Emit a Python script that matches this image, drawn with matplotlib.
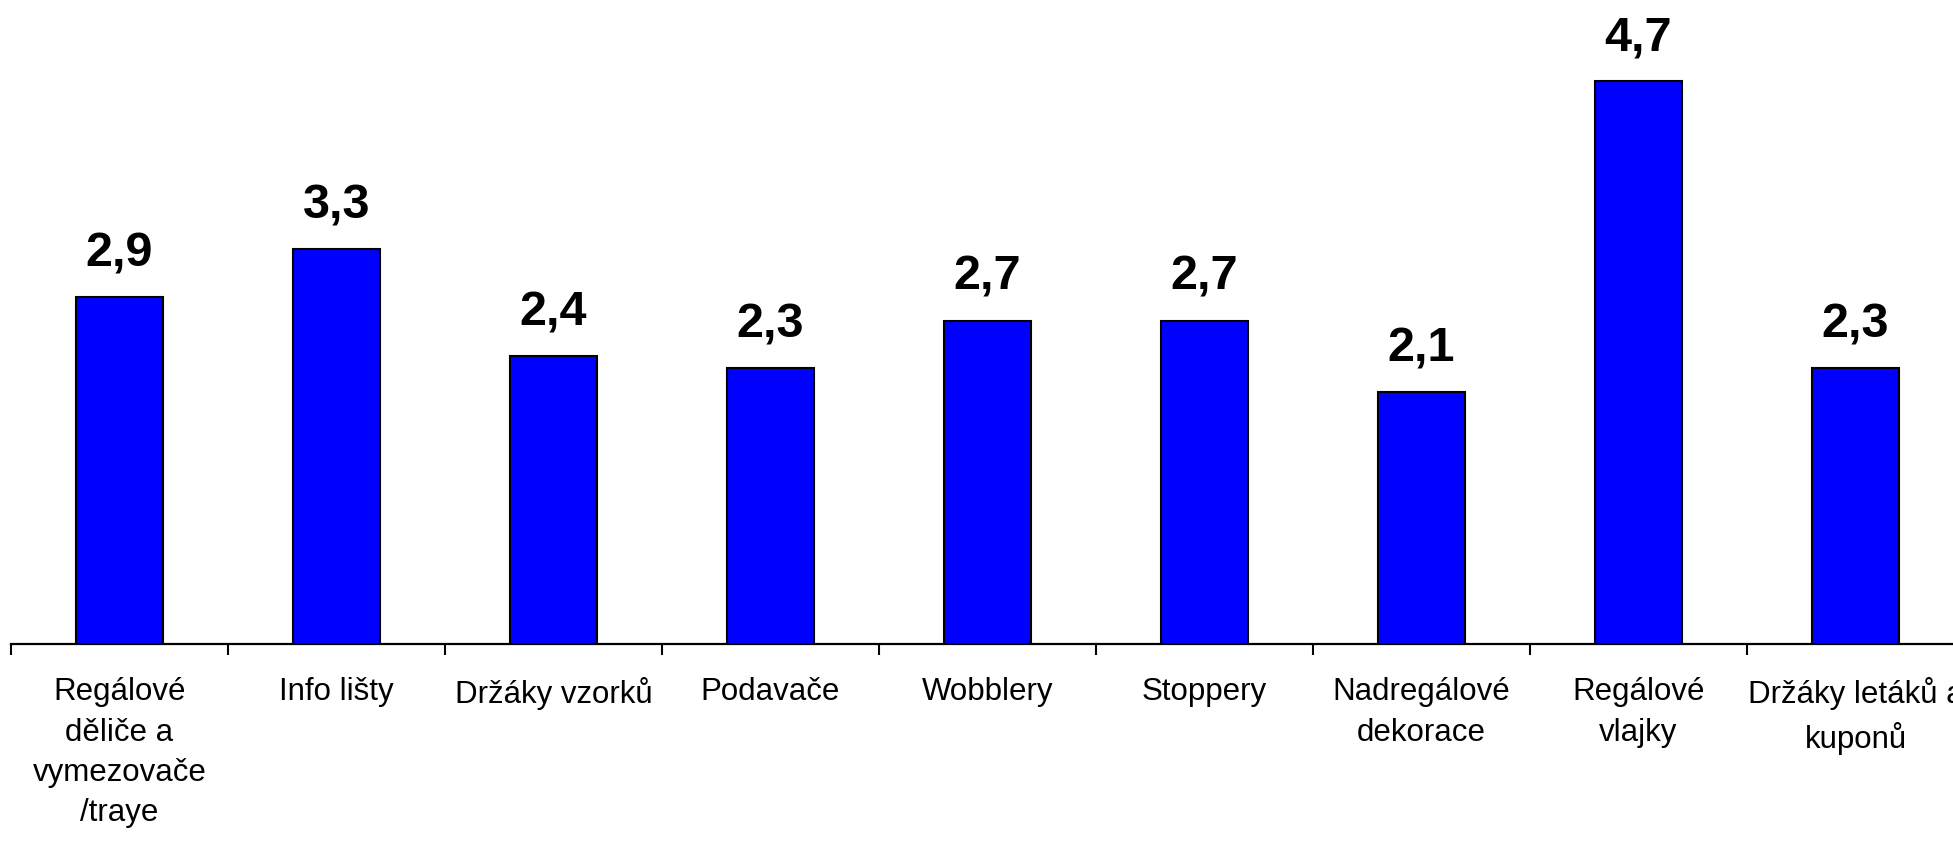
import matplotlib
matplotlib.use("Agg")
import matplotlib.pyplot as plt
import numpy as np

categories = [
    "Regálové\nděliče a\nvymezovače\n/traye",
    "Info lišty",
    "Držáky vzorků",
    "Podavače",
    "Wobblery",
    "Stoppery",
    "Nadregálové\ndekorace",
    "Regálové\nvlajky",
    "Držáky letáků a\nkuponů",
]
values = [2.9, 3.3, 2.4, 2.3, 2.7, 2.7, 2.1, 4.7, 2.3]
value_labels = ["2,9", "3,3", "2,4", "2,3", "2,7", "2,7", "2,1", "4,7", "2,3"]

plt.rcParams['font.family'] = ['Liberation Sans', 'DejaVu Sans']

W, H = 1953, 852
fig = plt.figure(figsize=(W / 100, H / 100), dpi=100)
ax_left = 11 / W
ax_bottom = (H - 644) / H
ax_height = 644 / H
ax_width = 1953 / W
ax = fig.add_axes([ax_left, ax_bottom, ax_width, ax_height])

x = np.arange(len(categories))
ax.bar(x, values, width=0.40, color="#0000FF", edgecolor="black", linewidth=1.5, zorder=3)

for xi, v, lab in zip(x, values, value_labels):
    ax.annotate(lab, (xi, v), xytext=(0, 22), textcoords="offset points",
                ha="center", va="baseline", fontsize=35, fontweight="bold", color="black")

ax.set_xlim(-0.5, len(categories) - 0.5)
ax.set_ylim(0, 644 / 119.8)

for s in ["top", "right", "left"]:
    ax.spines[s].set_visible(False)
ax.spines["bottom"].set_linewidth(1.6)
ax.spines["bottom"].set_color("black")

ax.set_yticks([])
ax.set_xticks(np.arange(-0.5, len(categories), 1.0))
ax.set_xticklabels([])
ax.set_xticks(x, minor=True)
ax.set_xticklabels(categories, minor=True, fontsize=22.5, linespacing=1.45)
ax.tick_params(axis="x", which="major", direction="out", length=8, width=1.5, color="black")
ax.tick_params(axis="x", which="minor", length=0, pad=24)

fig.savefig("out.png", dpi=100)
